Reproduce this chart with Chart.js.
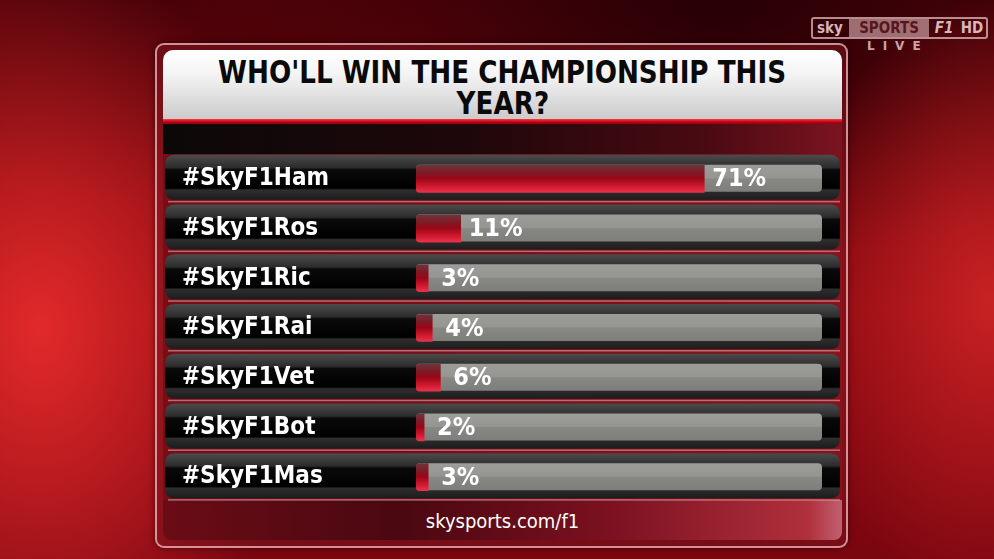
<!DOCTYPE html>
<html><head><meta charset="utf-8">
<script src="https://cdn.jsdelivr.net/npm/chart.js@4.4.1/dist/chart.umd.min.js"></script>
<style>
html,body{margin:0;padding:0;width:994px;height:559px;overflow:hidden;}
body{position:relative;font-family:"DejaVu Sans Condensed","DejaVu Sans",sans-serif;
background:
 radial-gradient(ellipse 260px 380px at 40px 330px, rgba(235,45,45,0.9), rgba(235,45,45,0) 100%),
 radial-gradient(ellipse 200px 300px at 990px 300px, rgba(215,40,40,0.8), rgba(215,40,40,0)),
 radial-gradient(ellipse 520px 260px at 720px 0px, rgba(35,0,5,0.95), rgba(35,0,5,0)),
 radial-gradient(ellipse 300px 200px at 120px 0px, rgba(60,0,8,0.7), rgba(60,0,8,0)),
 linear-gradient(180deg,#5c0209 0%, #8a0810 55%, #7a0610 100%);}
.abs{position:absolute;}
#panel{left:155px;top:43px;width:693px;height:505px;border-radius:9px;border:2px solid rgba(255,200,205,0.7);box-sizing:border-box;background:rgba(120,20,30,0.55);box-shadow:0 0 6px rgba(0,0,0,0.5);}
#titlebox{left:163px;top:50px;width:679px;height:69px;border-radius:10px 10px 0 0;background:linear-gradient(#ffffff 0%,#f4f4f4 35%,#dedede 70%,#cbcbcb 100%);}
#title{left:163px;top:57px;width:679px;text-align:center;font-weight:bold;font-size:32px;line-height:31px;color:#0a0a0a;font-family:"DejaVu Sans Condensed",sans-serif;white-space:nowrap;}
#title span{display:inline-block;transform:scaleX(0.91);transform-origin:center;}
#redline{left:163px;top:119px;width:679px;height:5px;background:linear-gradient(#ff3a40,#c00012 60%,#900010);}
#darkband{left:163px;top:124px;width:679px;height:30px;background:linear-gradient(90deg,#0c0808 0%,#1e070a 45%,#4a0a12 80%,#7a1420 100%);}
#rowsbg{left:163px;top:154px;width:679px;height:348px;background:linear-gradient(90deg,rgba(110,10,20,0.7),rgba(140,20,30,0.6));}
#footer{left:163px;top:500px;width:679px;height:40px;border-radius:0 0 8px 8px;background:linear-gradient(90deg,#6a0c16 0%,#4a0810 35%,#7a1020 65%,#b0303c 95%,#c06070 100%);}
#foottext{left:163px;top:509px;width:679px;text-align:center;color:#fff;font-size:20px;font-family:"DejaVu Sans Condensed",sans-serif;}
#chartwrap{left:160px;top:154px;width:685px;height:348px;}
#logo{left:811px;top:17px;height:22px;width:177px;border:2px solid rgba(240,200,205,0.7);border-radius:3px;box-sizing:border-box;color:rgba(245,215,220,0.85);font-weight:bold;font-size:15px;line-height:18px;font-family:"DejaVu Sans Condensed",sans-serif;white-space:nowrap;overflow:hidden;}
#logo span{display:inline-block;vertical-align:top;}
#live{left:867px;top:39px;color:rgba(240,210,215,0.8);font-size:12px;letter-spacing:8px;font-weight:bold;font-family:"DejaVu Sans",sans-serif;}
</style></head>
<body>
<div id="panel" class="abs"></div>
<div id="titlebox" class="abs"></div>
<div id="title" class="abs"><span>WHO'LL WIN THE CHAMPIONSHIP THIS</span><br><span>YEAR?</span></div>
<div id="redline" class="abs"></div>
<div id="darkband" class="abs"></div>
<div id="rowsbg" class="abs"></div>
<div id="footer" class="abs"></div>
<div id="foottext" class="abs">skysports.com/f1</div>
<div id="logo" class="abs"><span style="padding-left:4px;width:32px">sky</span><span style="background:rgba(240,200,205,0.55);color:rgba(80,10,15,0.9);width:80px;text-align:center">SPORTS</span><span style="width:30px;text-align:center;font-style:italic">F1</span><span style="width:26px;text-align:center">HD</span></div>
<div id="live" class="abs">LIVE</div>
<div id="chartwrap" class="abs"><canvas id="c"></canvas></div>
<script>
const categories = ['#SkyF1Ham','#SkyF1Ros','#SkyF1Ric','#SkyF1Rai','#SkyF1Vet','#SkyF1Bot','#SkyF1Mas'];
const votes = [71, 11, 3, 4, 6, 2, 3];
const pctLabels = ['71%','11%','3%','4%','6%','2%','3%'];
const axisMin = 0;
const axisMax = 100;

function rr(ctx,x,y,w,h,r){
  ctx.beginPath();
  ctx.moveTo(x+r,y);ctx.lineTo(x+w-r,y);ctx.quadraticCurveTo(x+w,y,x+w,y+r);
  ctx.lineTo(x+w,y+h-r);ctx.quadraticCurveTo(x+w,y+h,x+w-r,y+h);
  ctx.lineTo(x+r,y+h);ctx.quadraticCurveTo(x,y+h,x,y+h-r);
  ctx.lineTo(x,y+r);ctx.quadraticCurveTo(x,y,x+r,y);ctx.closePath();
}

const rowsPlugin = {
  id:'rows',
  beforeDraw(chart){
    const ctx = chart.ctx, ys = chart.scales.y, xs = chart.scales.x;
    const x0 = xs.getPixelForValue(axisMin), x1 = xs.getPixelForValue(axisMax);
    ctx.save();
    categories.forEach((c,i)=>{
      const y = ys.getPixelForValue(i);
      ctx.fillStyle='rgba(225,190,195,0.55)';
      ctx.fillRect(8, y+22, 672, 1.5);
      const g = ctx.createLinearGradient(0,y-24,0,y+21);
      g.addColorStop(0,'#4c4c4c');g.addColorStop(0.28,'#2c2c2c');g.addColorStop(0.33,'#0a0a0a');
      g.addColorStop(0.74,'#000');g.addColorStop(0.78,'#2e2e2e');g.addColorStop(1,'#1c1c1c');
      ctx.fillStyle=g; rr(ctx,5,y-24,675,45,10); ctx.fill();
      const t = ctx.createLinearGradient(0,y-14,0,y+13);
      t.addColorStop(0,'#9c9c99');t.addColorStop(0.48,'#959592');t.addColorStop(0.52,'#878783');t.addColorStop(1,'#7e7e7a');
      ctx.fillStyle=t; rr(ctx,x0,y-14,x1-x0,27,4); ctx.fill();
    });
    ctx.restore();
  },
  afterDatasetsDraw(chart){
    const ctx = chart.ctx, ys = chart.scales.y, xs = chart.scales.x;
    ctx.save();
    ctx.fillStyle='#fff';
    ctx.font='bold 25px "DejaVu Sans Condensed", sans-serif';
    ctx.textBaseline='middle';ctx.textAlign='left';
    votes.forEach((v,i)=>{
      const y = ys.getPixelForValue(i);
      const x = xs.getPixelForValue(v) + (v < 10 ? 13 : 8);
      ctx.fillText(pctLabels[i], x, y+1);
    });
    ctx.restore();
  }
};

function barGrad(context){
  const chart = context.chart;
  const ys = chart.scales.y;
  if(!ys || !chart.chartArea) return '#c01020';
  const y = ys.getPixelForValue(context.dataIndex);
  const g = chart.ctx.createLinearGradient(0,y-14,0,y+13);
  g.addColorStop(0,'#70343a');g.addColorStop(0.3,'#7e1a24');g.addColorStop(0.5,'#9a0616');
  g.addColorStop(0.8,'#d01a30');g.addColorStop(1,'#e83048');
  return g;
}

new Chart(document.getElementById('c'),{
  type:'bar',
  data:{labels:categories,datasets:[{data:votes,backgroundColor:barGrad,barThickness:27,
    borderRadius:{topLeft:4,bottomLeft:4,topRight:0,bottomRight:0},borderSkipped:false}]},
  options:{
    indexAxis:'y',responsive:true,maintainAspectRatio:false,animation:false,
    layout:{padding:{left:22,right:23,top:0,bottom:0}},
    plugins:{legend:{display:false},tooltip:{enabled:false},title:{display:false}},
    scales:{
      x:{display:false,min:axisMin,max:axisMax},
      y:{
        grid:{display:false},border:{display:false},
        afterFit(s){s.width=234;s.paddingTop=0;s.paddingBottom=0;},
        ticks:{crossAlign:'far',color:'#fff',padding:0,font:{family:'"DejaVu Sans Condensed", sans-serif',weight:'bold',size:24}}
      }
    }
  },
  plugins:[rowsPlugin]
});
</script>
</body></html>
